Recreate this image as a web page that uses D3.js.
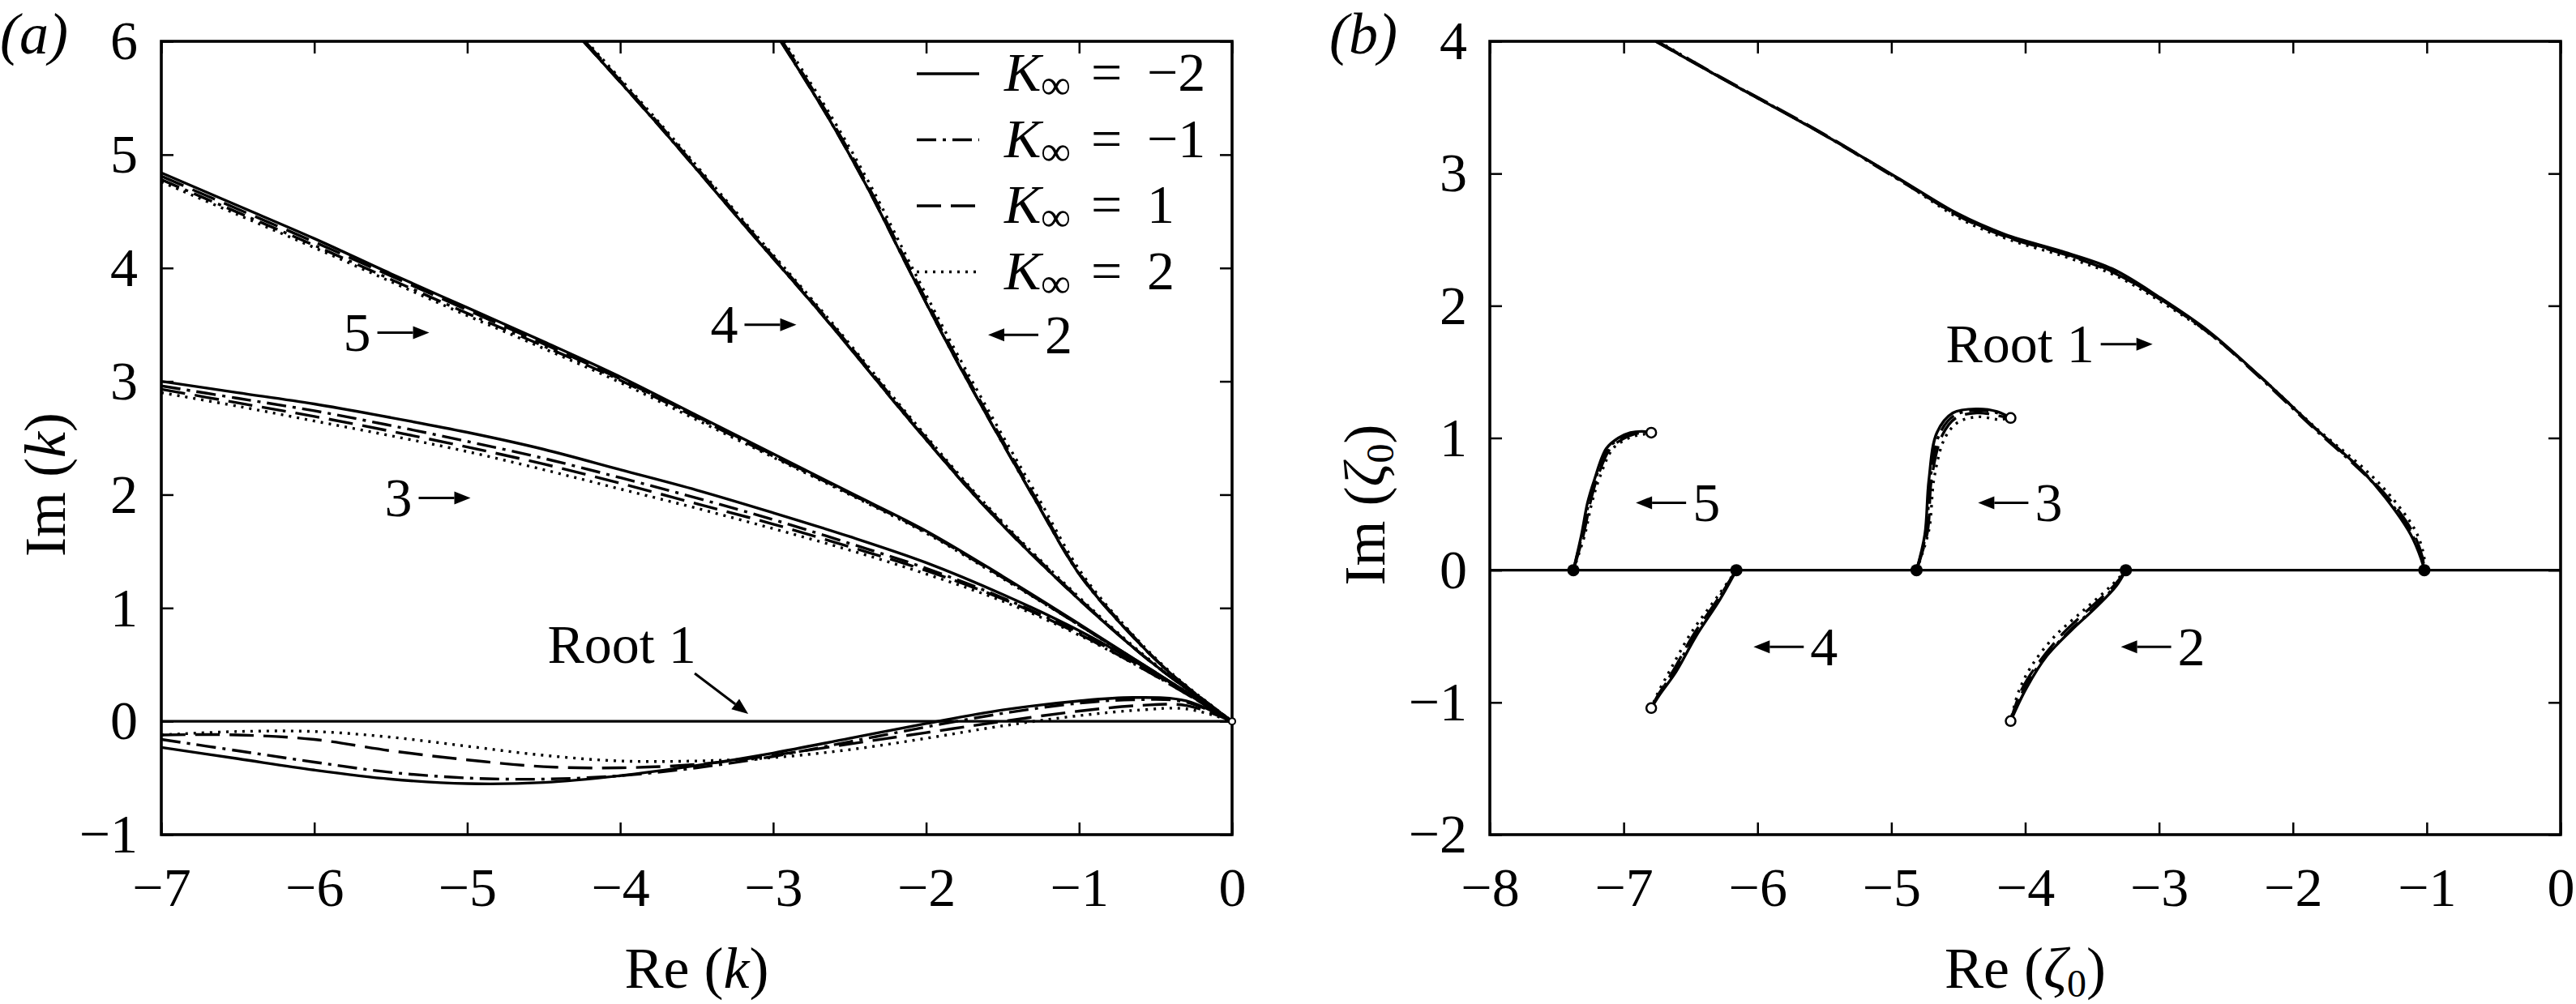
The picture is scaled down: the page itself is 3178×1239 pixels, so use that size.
<!DOCTYPE html>
<html>
<head>
<meta charset="utf-8">
<title>Root trajectories</title>
<style>
  html, body { margin: 0; padding: 0; background: #fff; }
  svg { display: block; font-family: 'Liberation Serif', 'DejaVu Serif', serif; }
</style>
</head>
<body>
<svg id="chart" width="3178" height="1239"></svg>
<script src="https://cdnjs.cloudflare.com/ajax/libs/d3/7.8.5/d3.min.js"></script>
<script>
// ---- data ----
var kInf = [-2, -1, 1, 2];

var aXTicks = [-7, -6, -5, -4, -3, -2, -1, 0];
var aYTicks = [-1, 0, 1, 2, 3, 4, 5, 6];
var bXTicks = [-8, -7, -6, -5, -4, -3, -2, -1, 0];
var bYTicks = [-2, -1, 0, 1, 2, 3, 4];

// panel (a): k-plane, one array per K value (same order as kInf)
var aRoot1 = [
  [[-7,-0.23],[-6.5,-0.33],[-6,-0.43],[-5.5,-0.51],[-5,-0.55],[-4.5,-0.54],[-4,-0.48],[-3.5,-0.39],[-3,-0.28],[-2.5,-0.15],[-2,-0.02],[-1.5,0.10],[-1,0.18],[-0.65,0.21],[-0.3,0.18],[0,0]],
  [[-7,-0.16],[-6.5,-0.26],[-6,-0.36],[-5.5,-0.45],[-5,-0.50],[-4.5,-0.51],[-4,-0.48],[-3.5,-0.41],[-3,-0.31],[-2.5,-0.18],[-2,-0.05],[-1.5,0.07],[-1,0.16],[-0.65,0.19],[-0.3,0.17],[0,0]],
  [[-7,-0.12],[-6.5,-0.12],[-6,-0.16],[-5.5,-0.26],[-5,-0.34],[-4.5,-0.40],[-4,-0.41],[-3.5,-0.38],[-3,-0.30],[-2.5,-0.20],[-2,-0.10],[-1.5,0.00],[-1,0.09],[-0.6,0.14],[-0.3,0.14],[0,0]],
  [[-7,-0.12],[-6.5,-0.09],[-6,-0.09],[-5.5,-0.14],[-5,-0.22],[-4.5,-0.30],[-4,-0.35],[-3.5,-0.35],[-3,-0.32],[-2.5,-0.25],[-2,-0.15],[-1.5,-0.04],[-1,0.05],[-0.6,0.10],[-0.3,0.11],[0,0]]
];
var aRoot2 = [
  [[-2.95,6.0],[-2.65,5.35],[-2.38,4.70],[-2.11,3.98],[-1.84,3.28],[-1.57,2.62],[-1.29,1.96],[-1.0,1.30],[-0.7,0.82],[-0.4,0.42],[0,0]],
  [[-2.95,6.0],[-2.65,5.35],[-2.38,4.70],[-2.11,3.98],[-1.84,3.28],[-1.57,2.62],[-1.29,1.96],[-1.0,1.30],[-0.7,0.82],[-0.4,0.42],[0,0]],
  [[-2.94,6.0],[-2.64,5.35],[-2.37,4.70],[-2.10,3.98],[-1.83,3.28],[-1.56,2.62],[-1.28,1.96],[-1.0,1.31],[-0.7,0.83],[-0.4,0.42],[0,0]],
  [[-2.93,6.0],[-2.63,5.36],[-2.36,4.72],[-2.09,4.00],[-1.82,3.30],[-1.55,2.64],[-1.27,1.98],[-0.99,1.32],[-0.7,0.84],[-0.4,0.43],[0,0]]
];
var aRoot3 = [
  [[-7,3.00],[-6.5,2.90],[-6,2.80],[-5.5,2.68],[-5,2.55],[-4.5,2.40],[-4,2.22],[-3.5,2.04],[-3,1.84],[-2.5,1.63],[-2,1.40],[-1.5,1.12],[-1,0.80],[-0.5,0.42],[0,0]],
  [[-7,2.96],[-6.5,2.85],[-6,2.74],[-5.5,2.61],[-5,2.47],[-4.5,2.32],[-4,2.15],[-3.5,1.97],[-3,1.78],[-2.5,1.57],[-2,1.35],[-1.5,1.09],[-1,0.78],[-0.5,0.41],[0,0]],
  [[-7,2.93],[-6.5,2.81],[-6,2.69],[-5.5,2.56],[-5,2.42],[-4.5,2.27],[-4,2.10],[-3.5,1.92],[-3,1.74],[-2.5,1.54],[-2,1.33],[-1.5,1.08],[-1,0.77],[-0.5,0.40],[0,0]],
  [[-7,2.90],[-6.5,2.78],[-6,2.65],[-5.5,2.52],[-5,2.38],[-4.5,2.22],[-4,2.05],[-3.5,1.88],[-3,1.70],[-2.5,1.51],[-2,1.30],[-1.5,1.06],[-1,0.76],[-0.5,0.40],[0,0]]
];
var aRoot4 = [
  [[-4.24,6.0],[-3.73,5.23],[-3.19,4.38],[-2.65,3.54],[-2.11,2.66],[-1.62,1.90],[-1.1,1.20],[-0.6,0.60],[-0.3,0.29],[0,0]],
  [[-4.24,6.0],[-3.73,5.23],[-3.19,4.38],[-2.65,3.54],[-2.11,2.66],[-1.62,1.90],[-1.1,1.20],[-0.6,0.60],[-0.3,0.29],[0,0]],
  [[-4.23,6.0],[-3.72,5.23],[-3.18,4.38],[-2.64,3.54],[-2.10,2.66],[-1.61,1.90],[-1.1,1.21],[-0.6,0.60],[-0.3,0.29],[0,0]],
  [[-4.22,6.0],[-3.71,5.23],[-3.17,4.38],[-2.63,3.54],[-2.09,2.66],[-1.60,1.90],[-1.09,1.21],[-0.6,0.61],[-0.3,0.30],[0,0]]
];
var aRoot5 = [
  [[-7,4.84],[-6.5,4.55],[-6,4.26],[-5.5,3.95],[-5,3.65],[-4.5,3.35],[-4,3.04],[-3.5,2.70],[-3,2.36],[-2.5,2.02],[-2,1.68],[-1.5,1.28],[-1,0.86],[-0.5,0.43],[0,0]],
  [[-7,4.78],[-6.5,4.49],[-6,4.20],[-5.5,3.90],[-5,3.60],[-4.5,3.31],[-4,3.01],[-3.5,2.68],[-3,2.34],[-2.5,2.01],[-2,1.67],[-1.5,1.27],[-1,0.85],[-0.5,0.43],[0,0]],
  [[-7,4.81],[-6.5,4.52],[-6,4.23],[-5.5,3.93],[-5,3.63],[-4.5,3.33],[-4,3.02],[-3.5,2.69],[-3,2.35],[-2.5,2.01],[-2,1.67],[-1.5,1.27],[-1,0.85],[-0.5,0.43],[0,0]],
  [[-7,4.76],[-6.5,4.47],[-6,4.18],[-5.5,3.88],[-5,3.58],[-4.5,3.29],[-4,2.99],[-3.5,2.66],[-3,2.33],[-2.5,2.00],[-2,1.66],[-1.5,1.26],[-1,0.85],[-0.5,0.42],[0,0]]
];

// panel (b): zeta_0-plane, one array per K value
var bRoot1 = [
  [[-6.76,4.0],[-6.25,3.71],[-5.55,3.32],[-4.94,2.96],[-4.51,2.70],[-4.15,2.54],[-3.72,2.41],[-3.35,2.28],[-2.99,2.06],[-2.62,1.80],[-2.25,1.47],[-1.83,1.07],[-1.5,0.77],[-1.31,0.55],[-1.12,0.27],[-1.04,0.08],[-1.018,0]],
  [[-6.76,4.0],[-6.25,3.71],[-5.55,3.32],[-4.94,2.95],[-4.51,2.69],[-4.15,2.53],[-3.72,2.40],[-3.35,2.26],[-2.99,2.05],[-2.62,1.79],[-2.25,1.46],[-1.83,1.06],[-1.5,0.76],[-1.30,0.55],[-1.11,0.27],[-1.03,0.08],[-1.018,0]],
  [[-6.75,4.0],[-6.24,3.71],[-5.54,3.32],[-4.93,2.95],[-4.50,2.68],[-4.14,2.52],[-3.71,2.39],[-3.34,2.25],[-2.98,2.04],[-2.61,1.78],[-2.24,1.46],[-1.82,1.06],[-1.49,0.76],[-1.29,0.55],[-1.10,0.28],[-1.03,0.09],[-1.018,0]],
  [[-6.74,4.0],[-6.23,3.70],[-5.53,3.31],[-4.92,2.94],[-4.49,2.66],[-4.12,2.50],[-3.70,2.37],[-3.33,2.23],[-2.97,2.02],[-2.60,1.77],[-2.23,1.45],[-1.81,1.06],[-1.47,0.77],[-1.27,0.56],[-1.08,0.29],[-1.02,0.10],[-1.018,0]]
];
var bRoot2 = [
  [[-3.248,0],[-3.32,-0.12],[-3.47,-0.28],[-3.65,-0.45],[-3.84,-0.65],[-3.99,-0.89],[-4.109,-1.141]],
  [[-3.248,0],[-3.33,-0.12],[-3.49,-0.29],[-3.68,-0.47],[-3.87,-0.68],[-4.01,-0.90],[-4.109,-1.141]],
  [[-3.248,0],[-3.34,-0.12],[-3.52,-0.29],[-3.72,-0.48],[-3.90,-0.70],[-4.03,-0.91],[-4.109,-1.141]],
  [[-3.248,0],[-3.36,-0.12],[-3.56,-0.30],[-3.78,-0.50],[-3.95,-0.72],[-4.05,-0.92],[-4.109,-1.141]]
];
var bRoot3 = [
  [[-4.812,0],[-4.75,0.27],[-4.72,0.68],[-4.66,1.04],[-4.54,1.19],[-4.36,1.22],[-4.21,1.20],[-4.109,1.151]],
  [[-4.812,0],[-4.74,0.28],[-4.71,0.68],[-4.64,1.03],[-4.53,1.17],[-4.36,1.21],[-4.21,1.19],[-4.109,1.151]],
  [[-4.812,0],[-4.73,0.29],[-4.70,0.69],[-4.62,1.02],[-4.52,1.15],[-4.36,1.19],[-4.21,1.17],[-4.109,1.151]],
  [[-4.812,0],[-4.72,0.30],[-4.68,0.70],[-4.60,1.00],[-4.50,1.12],[-4.35,1.16],[-4.20,1.14],[-4.109,1.151]]
];
var bRoot4 = [
  [[-6.158,0],[-6.28,-0.22],[-6.46,-0.50],[-6.61,-0.77],[-6.73,-0.94],[-6.794,-1.043]],
  [[-6.158,0],[-6.29,-0.21],[-6.47,-0.49],[-6.62,-0.76],[-6.74,-0.94],[-6.794,-1.043]],
  [[-6.158,0],[-6.29,-0.21],[-6.48,-0.49],[-6.63,-0.76],[-6.74,-0.94],[-6.794,-1.043]],
  [[-6.158,0],[-6.30,-0.20],[-6.50,-0.48],[-6.65,-0.75],[-6.75,-0.94],[-6.794,-1.043]]
];
var bRoot5 = [
  [[-7.376,0],[-7.315,0.27],[-7.27,0.51],[-7.22,0.68],[-7.13,0.92],[-7.04,1.00],[-6.95,1.04],[-6.86,1.05],[-6.794,1.04]],
  [[-7.376,0],[-7.31,0.27],[-7.26,0.51],[-7.21,0.69],[-7.12,0.92],[-7.03,0.99],[-6.94,1.03],[-6.86,1.04],[-6.794,1.04]],
  [[-7.376,0],[-7.30,0.27],[-7.25,0.51],[-7.20,0.69],[-7.10,0.92],[-7.01,0.99],[-6.92,1.03],[-6.85,1.04],[-6.794,1.04]],
  [[-7.376,0],[-7.29,0.27],[-7.24,0.50],[-7.18,0.70],[-7.08,0.92],[-6.98,0.99],[-6.90,1.02],[-6.84,1.03],[-6.794,1.04]]
];
// end points in panel (b): filled = start on real axis, open = end
var bFilledRe = [-7.376, -6.158, -4.812, -3.248, -1.018];
var bOpenRe = [-6.794, -6.794, -4.109, -4.109];
var bOpenIm = [1.04, -1.043, 1.151, -1.141];

// root labels with arrows (position of the label group, data units)
var aNotes = [
  { t: '5', x: -5.81, y: 3.43, dir: 'right' },
  { t: '4', x: -3.41, y: 3.50, dir: 'right' },
  { t: '2', x: -1.595, y: 3.41, dir: 'left' },
  { t: '3', x: -5.54, y: 1.97, dir: 'right' }
];
var bNotes = [
  { t: 'Root 1', x: -4.594, y: 1.71, dir: 'right' },
  { t: '5', x: -6.909, y: 0.51, dir: 'left' },
  { t: '3', x: -4.352, y: 0.51, dir: 'left' },
  { t: '4', x: -6.03, y: -0.58, dir: 'left' },
  { t: '2', x: -3.285, y: -0.58, dir: 'left' }
];

// ---- drawing ----
var svg = d3.select('#chart');
var dashes = [null, '24,8,4,8', '30,12', '3,7'];
var plotTop = 51, plotBottom = 1030;
var fmt = d3.format('d');

function arrow(g, x1, y1, x2, y2) {
  var a = Math.atan2(y2 - y1, x2 - x1), L = 20, W = 8;
  var bx = x2 - L * Math.cos(a), by = y2 - L * Math.sin(a);
  g.append('line').attr('x1', x1).attr('y1', y1).attr('x2', bx).attr('y2', by)
    .attr('stroke', '#000').attr('stroke-width', 3);
  g.append('path').attr('fill', '#000')
    .attr('d', 'M' + x2 + ',' + y2 + 'L' + (bx - W * Math.sin(a)) + ',' + (by + W * Math.cos(a)) +
      'L' + (bx + W * Math.sin(a)) + ',' + (by - W * Math.cos(a)) + 'Z');
}

function panel(o) {
  var x = d3.scaleLinear().domain(o.xd).range([o.l, o.r]);
  var y = d3.scaleLinear().domain(o.yd).range([plotBottom, plotTop]);
  var g = svg.append('g');

  var clipId = 'clip' + o.id;
  g.append('clipPath').attr('id', clipId).append('rect')
    .attr('x', o.l).attr('y', plotTop).attr('width', o.r - o.l).attr('height', plotBottom - plotTop);

  // axes: ticks inward on all four sides
  var ax = [
    g.append('g').attr('transform', 'translate(0,' + plotBottom + ')')
      .call(d3.axisBottom(x).tickValues(o.xt).tickSize(-15).tickSizeOuter(0).tickPadding(40).tickFormat(fmt)),
    g.append('g').attr('transform', 'translate(0,' + plotTop + ')')
      .call(d3.axisTop(x).tickValues(o.xt).tickSize(-15).tickSizeOuter(0).tickFormat('')),
    g.append('g').attr('transform', 'translate(' + o.l + ',0)')
      .call(d3.axisLeft(y).tickValues(o.yt).tickSize(-15).tickSizeOuter(0).tickPadding(o.yPad).tickFormat(fmt)),
    g.append('g').attr('transform', 'translate(' + o.r + ',0)')
      .call(d3.axisRight(y).tickValues(o.yt).tickSize(-15).tickSizeOuter(0).tickFormat(''))
  ];
  ax.forEach(function (a) {
    a.select('.domain').remove();
    a.selectAll('line').attr('stroke-width', 2.5);
    a.selectAll('text').attr('font-size', 68).attr('font-family', "'Liberation Serif', serif").attr('fill', '#000');
  });

  // zero line
  g.append('line').attr('x1', o.l).attr('x2', o.r).attr('y1', y(0)).attr('y2', y(0))
    .attr('stroke', '#000').attr('stroke-width', 3.2);

  var line = d3.line().x(function (d) { return x(d[0]); }).y(function (d) { return y(d[1]); })
    .curve(d3.curveCatmullRom.alpha(0.5));
  var curves = g.append('g').attr('clip-path', 'url(#' + clipId + ')');
  o.roots.forEach(function (root) {
    root.forEach(function (pts, i) {
      curves.append('path').attr('d', line(pts)).attr('fill', 'none')
        .attr('stroke', '#000').attr('stroke-width', 3.4)
        .attr('stroke-dasharray', dashes[i]);
    });
  });

  // frame
  g.append('rect').attr('x', o.l).attr('y', plotTop).attr('width', o.r - o.l).attr('height', plotBottom - plotTop)
    .attr('fill', 'none').attr('stroke', '#000').attr('stroke-width', 3.6);

  // root labels
  o.notes.forEach(function (n) {
    var px = x(n.x), py = y(n.y);
    if (n.dir === 'right') {
      var t = g.append('text').attr('x', px).attr('y', py).attr('dy', '0.33em')
        .attr('font-size', 68).text(n.t);
      var w = t.node().getComputedTextLength();
      arrow(g, px + w + 8, py, px + w + 72, py);
    } else {
      arrow(g, px + 62, py, px, py);
      g.append('text').attr('x', px + 70).attr('y', py).attr('dy', '0.33em')
        .attr('font-size', 68).text(n.t);
    }
  });

  // panel letter
  g.append('text').attr('x', o.letterX).attr('y', 66).attr('font-size', 72)
    .attr('font-style', 'italic').text('(' + o.letter + ')');

  // axis titles
  var xt = g.append('text').attr('x', (o.l + o.r) / 2).attr('y', 1219)
    .attr('text-anchor', 'middle').attr('font-size', 72);
  xt.append('tspan').text('Re (');
  xt.append('tspan').attr('font-style', 'italic').text(o.sym);
  if (o.sub) xt.append('tspan').attr('font-size', 48).attr('dy', 11).text(o.sub);
  xt.append('tspan').attr('dy', o.sub ? -11 : 0).text(')');

  var yt = g.append('text').attr('transform', 'translate(' + o.yTitleX + ',' + o.yTitleY + ') rotate(-90)')
    .attr('text-anchor', 'middle').attr('font-size', 72);
  yt.append('tspan').text('Im (');
  yt.append('tspan').attr('font-style', 'italic').text(o.sym);
  if (o.sub) yt.append('tspan').attr('font-size', 48).attr('dy', 11).text(o.sub);
  yt.append('tspan').attr('dy', o.sub ? -11 : 0).text(')');

  return { g: g, x: x, y: y };
}

var pa = panel({
  id: 'a', xd: [-7, 0], yd: [-1, 6], l: 199, r: 1520, xt: aXTicks, yt: aYTicks, yPad: 29,
  roots: [aRoot1, aRoot2, aRoot3, aRoot4, aRoot5], notes: aNotes,
  letter: 'a', letterX: 0, sym: 'k', sub: null, yTitleX: 80, yTitleY: 598
});
var pb = panel({
  id: 'b', xd: [-8, 0], yd: [-2, 4], l: 1838, r: 3159, xt: bXTicks, yt: bYTicks, yPad: 28,
  roots: [bRoot1, bRoot2, bRoot3, bRoot4, bRoot5], notes: bNotes,
  letter: 'b', letterX: 1640, sym: 'ζ', sub: '0', yTitleX: 1708, yTitleY: 623
});

// panel (a): "Root 1" label with diagonal arrow, origin marker
pa.g.append('text').attr('x', pa.x(-3.99)).attr('y', pa.y(0.516)).attr('text-anchor', 'middle')
  .attr('font-size', 68).text('Root 1');
arrow(pa.g, pa.x(-3.513), pa.y(0.423), pa.x(-3.163), pa.y(0.065));
pa.g.append('circle').attr('cx', pa.x(0)).attr('cy', pa.y(0)).attr('r', 4)
  .attr('fill', '#fff').attr('stroke', '#000').attr('stroke-width', 2);

// panel (b): start and end markers
pb.g.selectAll('circle.start').data(bFilledRe).join('circle').attr('class', 'start')
  .attr('cx', function (d) { return pb.x(d); }).attr('cy', pb.y(0)).attr('r', 7.5).attr('fill', '#000');
pb.g.selectAll('circle.end').data(bOpenRe).join('circle').attr('class', 'end')
  .attr('cx', function (d) { return pb.x(d); }).attr('cy', function (d, i) { return pb.y(bOpenIm[i]); })
  .attr('r', 6).attr('fill', '#fff').attr('stroke', '#000').attr('stroke-width', 2.5);

// legend (panel a)
var leg = pa.g.append('g');
kInf.forEach(function (k, i) {
  var ly = 91 + i * 81.5;
  leg.append('line').attr('x1', 1131).attr('x2', 1208).attr('y1', ly).attr('y2', ly)
    .attr('stroke', '#000').attr('stroke-width', 3.4).attr('stroke-dasharray', dashes[i]);
  leg.append('text').attr('x', 1239).attr('y', ly + 21).attr('font-size', 68)
    .attr('font-style', 'italic').text('K');
  leg.append('text').attr('x', 1284).attr('y', ly + 31).attr('font-size', 52).text('∞');
  leg.append('text').attr('x', 1346).attr('y', ly + 21).attr('font-size', 68).text('=');
  leg.append('text').attr('x', 1415).attr('y', ly + 21).attr('font-size', 68).text(fmt(k));
});
</script>
</body>
</html>
